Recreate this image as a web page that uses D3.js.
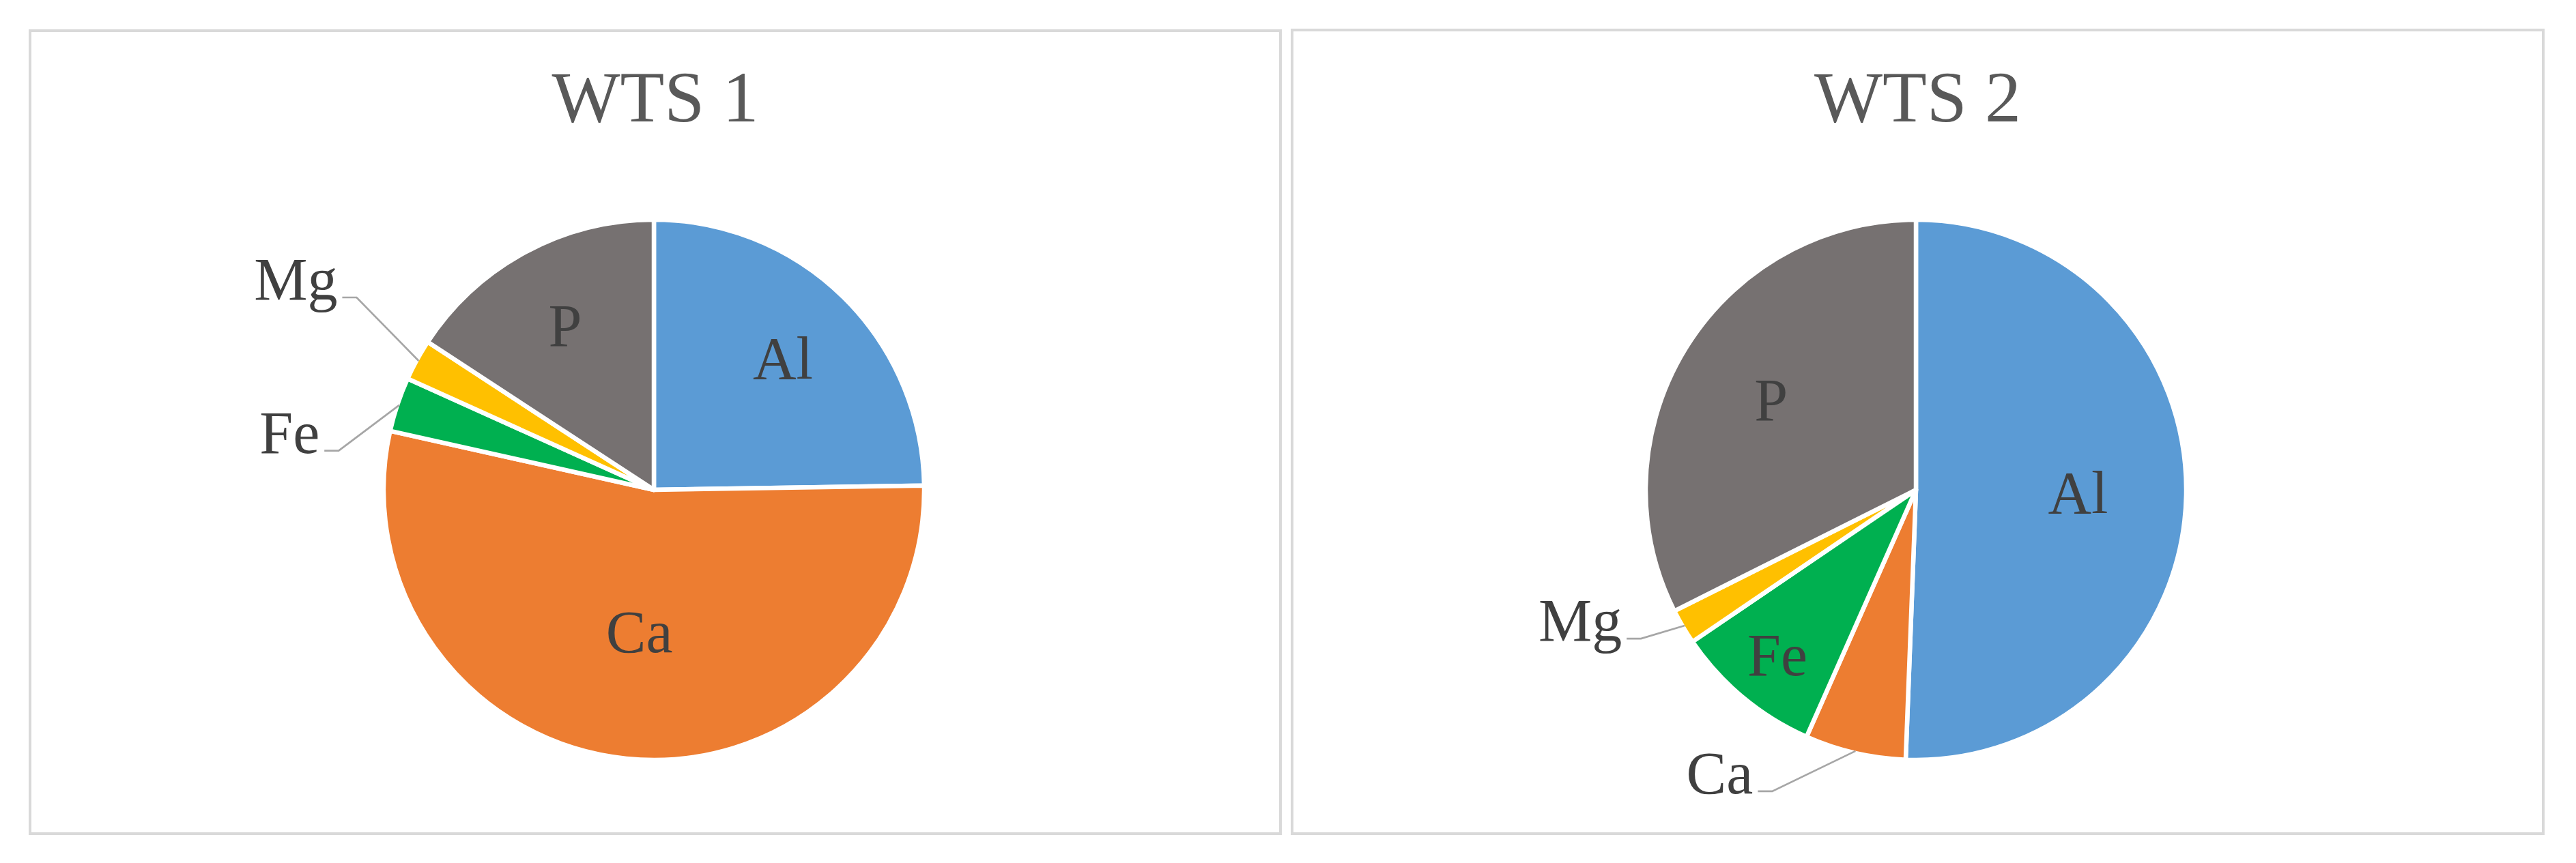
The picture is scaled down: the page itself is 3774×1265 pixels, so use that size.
<!DOCTYPE html>
<html>
<head>
<meta charset="utf-8">
<script src="https://cdn.jsdelivr.net/npm/d3@7"></script>
<style>
  html, body { margin: 0; padding: 0; background: #ffffff; }
  svg { display: block; }
</style>
</head>
<body>
<div id="g"></div>
<script>
// data (share of each element, %)
var elements = ["Al", "Ca", "Fe", "Mg", "P"];
var wts1 = [24.75, 53.75, 3.25, 2.47, 15.78];
var wts2 = [50.6, 6.03, 8.86, 2.1, 32.4];
var chartTitles = ["WTS 1", "WTS 2"];
var sliceColors = ["#5B9BD5", "#ED7D31", "#00B050", "#FFC000", "#767171"];

var WIDTH = 3774;
var HEIGHT = 1265;
var RADIUS = 396;
var LABEL_FONT = "'Liberation Serif', 'Times New Roman', serif";

// label placement: a number = inside, fraction of radius; an object = outside with leader
var labelLayouts = [
    { Al: 0.68, Ca: 0.53, Fe: { dx: -89, dy: 67 }, Mg: { dx: -91, dy: -93 }, P: 0.69 },
    { Al: 0.6, Ca: { dx: -122, dy: 59 }, Fe: 0.8, Mg: { dx: -64, dy: 19 }, P: 0.63 }
];

var panels = [
    { x0: 44, y0: 45, x1: 1876, y1: 1222 },
    { x0: 1893, y0: 44, x1: 3726, y1: 1222 }
];

var svg = d3.select("#g")
    .append("svg")
    .attr("width", WIDTH)
    .attr("height", HEIGHT)
    .style("background", "#ffffff");

var color = d3.scaleOrdinal().domain(elements).range(sliceColors);

var pie = d3.pie()
    .sort(null)
    .value(function(d) { return d.value; });

var arc = d3.arc().innerRadius(0).outerRadius(RADIUS);

function drawPanel(idx, values) {
    var p = panels[idx];
    var layout = labelLayouts[idx];

    svg.append("rect")
        .attr("x", p.x0)
        .attr("y", p.y0)
        .attr("width", p.x1 - p.x0)
        .attr("height", p.y1 - p.y0)
        .attr("fill", "none")
        .attr("stroke", "#d9d9d9")
        .attr("stroke-width", 4);

    svg.append("text")
        .attr("x", (p.x0 + p.x1) / 2)
        .attr("y", 178)
        .attr("text-anchor", "middle")
        .attr("fill", "#595959")
        .attr("font-family", LABEL_FONT)
        .attr("font-size", 106)
        .text(chartTitles[idx]);

    var cx = p.x0 + 914;
    var cy = 718;

    var rows = elements.map(function(e, i) { return { name: e, value: values[i] }; });
    var arcs = pie(rows);

    var g = svg.append("g").attr("transform", "translate(" + cx + "," + cy + ")");

    g.selectAll("path.slice")
        .data(arcs)
        .enter()
        .append("path")
        .attr("class", "slice")
        .attr("d", arc)
        .attr("fill", function(d) { return color(d.data.name); })
        .attr("stroke", "#ffffff")
        .attr("stroke-width", 6.5)
        .attr("stroke-linejoin", "round");

    arcs.forEach(function(d) {
        var pos = layout[d.data.name];
        var mid = (d.startAngle + d.endAngle) / 2;
        var sx = Math.sin(mid), sy = -Math.cos(mid);

        if (typeof pos === "number") {
            var r = pos * RADIUS;
            g.append("text")
                .attr("x", sx * r)
                .attr("y", sy * r + 29)
                .attr("text-anchor", "middle")
                .attr("fill", "#404040")
                .attr("font-family", LABEL_FONT)
                .attr("font-size", 88)
                .text(d.data.name);
        } else {
            var ax = sx * (RADIUS - 3), ay = sy * (RADIUS - 3);
            var ex = ax + pos.dx, ey = ay + pos.dy;
            g.append("polyline")
                .attr("points", [[ax, ay], [ex, ey], [ex - 21, ey]].join(" "))
                .attr("fill", "none")
                .attr("stroke", "#a6a6a6")
                .attr("stroke-width", 2.7);
            g.append("text")
                .attr("x", ex - 28)
                .attr("y", ey + 3)
                .attr("text-anchor", "end")
                .attr("fill", "#404040")
                .attr("font-family", LABEL_FONT)
                .attr("font-size", 88)
                .text(d.data.name);
        }
    });
}

drawPanel(0, wts1);
drawPanel(1, wts2);
</script>
</body>
</html>
